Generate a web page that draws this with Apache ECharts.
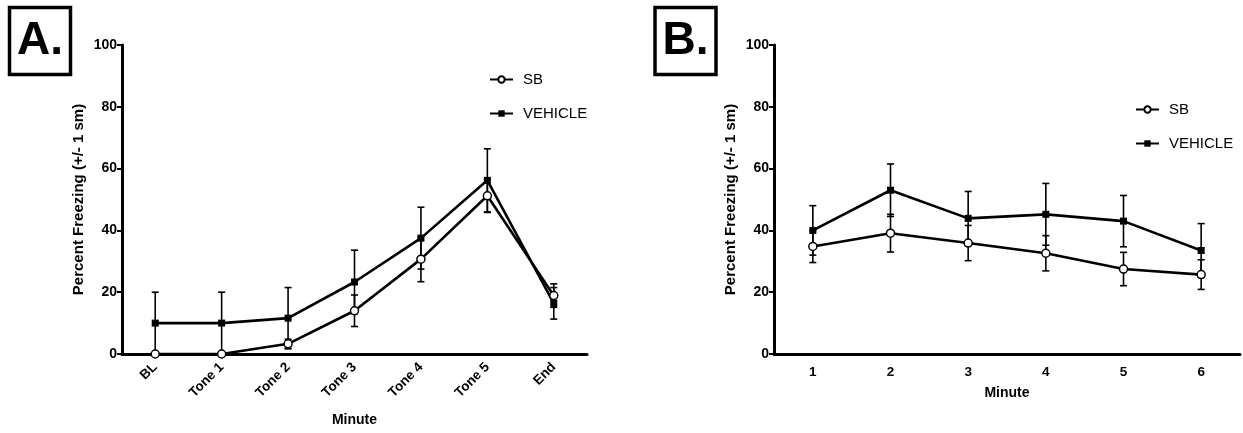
<!DOCTYPE html>
<html>
<head>
<meta charset="utf-8">
<script src="https://cdn.jsdelivr.net/npm/echarts@6/dist/echarts.min.js"></script>
<style>
  html, body { margin: 0; padding: 0; background: #fff; }
  #main { width: 1243px; height: 433px; }
</style>
</head>
<body>
<div id="main"></div>
<script>
// panel A: tone trials
var catsA = ['BL', 'Tone 1', 'Tone 2', 'Tone 3', 'Tone 4', 'Tone 5', 'End'];
var sbA = [0, 0, 3.3, 14.0, 30.7, 51.2, 18.9];
var sbAErr = [0, 0, 1.5, 5.1, 7.3, 5.4, 3.8];
var vehA = [10, 10, 11.6, 23.3, 37.5, 56.2, 16.4];
var vehAErr = [10, 10, 9.9, 10.3, 10.0, 10.2, 5.1];

// panel B: minutes
var catsB = ['1', '2', '3', '4', '5', '6'];
var sbB = [34.8, 39.1, 35.9, 32.6, 27.5, 25.7];
var sbBErr = [5.2, 6.1, 5.7, 5.7, 5.4, 4.8];
var vehB = [40.0, 53.0, 43.9, 45.2, 43.0, 33.5];
var vehBErr = [8.0, 8.5, 8.7, 10.0, 8.3, 8.7];

var yTicks = [0, 20, 40, 60, 80, 100];
var FONT = 'Arial, "Liberation Sans", sans-serif';

function errData(vals, errs) {
    var out = [];
    for (var i = 0; i < vals.length; i++) {
        out.push([i, vals[i] - errs[i], vals[i] + errs[i]]);
    }
    return out;
}

function renderErr(params, api) {
    var lo = api.value(1), hi = api.value(2);
    if (hi - lo <= 0) return null;
    var top = api.coord([api.value(0), hi]);
    var bot = api.coord([api.value(0), lo]);
    var w = 3.5;
    var st = { stroke: '#000', lineWidth: 1.6 };
    return {
        type: 'group',
        children: [
            { type: 'line', shape: { x1: top[0], y1: top[1], x2: bot[0], y2: bot[1] }, style: st },
            { type: 'line', shape: { x1: top[0] - w, y1: top[1], x2: top[0] + w, y2: top[1] }, style: st },
            { type: 'line', shape: { x1: bot[0] - w, y1: bot[1], x2: bot[0] + w, y2: bot[1] }, style: st }
        ]
    };
}

function xAx(idx, cats, rot, gap) {
    return {
        type: 'category', gridIndex: idx, data: cats, boundaryGap: true,
        name: 'Minute', nameLocation: 'middle', nameGap: gap,
        nameTextStyle: { fontFamily: FONT, fontWeight: 'bold', fontSize: 14, color: '#000' },
        axisLine: { lineStyle: { color: '#000', width: 3 } },
        axisTick: { alignWithLabel: true, length: 5, lineStyle: { width: 2, color: '#000' } },
        axisLabel: { rotate: rot, interval: 0, margin: 11, fontFamily: FONT, fontWeight: 'bold', fontSize: 13.5, color: '#000' },
        splitLine: { show: false }
    };
}

function yAx(idx) {
    return {
        type: 'value', gridIndex: idx, min: 0, max: 100, interval: 20,
        name: 'Percent Freezing (+/- 1 sm)', nameLocation: 'middle', nameGap: 36, nameRotate: 90,
        nameTextStyle: { fontFamily: FONT, fontWeight: 'bold', fontSize: 15, color: '#000' },
        axisLine: { show: true, lineStyle: { color: '#000', width: 3 } },
        axisTick: { show: true, length: 5, lineStyle: { width: 2, color: '#000' } },
        axisLabel: { margin: 5, fontFamily: FONT, fontWeight: 'bold', fontSize: 14, color: '#000',
            formatter: function (v) { return yTicks.indexOf(v) >= 0 ? String(v) : ''; } },
        splitLine: { show: false }
    };
}

function lineS(name, idx, vals, hollow) {
    return {
        name: name, type: 'line', xAxisIndex: idx, yAxisIndex: idx, data: vals,
        clip: false, z: 3,
        symbol: hollow ? 'circle' : 'rect', symbolSize: hollow ? 8 : 7,
        lineStyle: { color: '#000', width: 2.6 },
        itemStyle: hollow ? { color: '#fff', borderColor: '#000', borderWidth: 1.5 } : { color: '#000', borderWidth: 0 }
    };
}

function errS(idx, vals, errs) {
    return {
        type: 'custom', xAxisIndex: idx, yAxisIndex: idx, data: errData(vals, errs),
        renderItem: renderErr, clip: false, z: 2, silent: true
    };
}

function boxLabel(x, txt) {
    return [
        { type: 'rect', shape: { x: x, y: 7.5, width: 61, height: 67 }, style: { fill: 'none', stroke: '#000', lineWidth: 3.5 } },
        { type: 'text', x: x + 30.5, y: 41, style: { text: txt, fontFamily: FONT, fontWeight: 'bold', fontSize: 46, fill: '#000', align: 'center', verticalAlign: 'middle' } }
    ];
}

var legendBase = {
    orient: 'vertical', itemWidth: 23, itemHeight: 8, itemGap: 19,
    textStyle: { fontFamily: FONT, fontSize: 15, color: '#000', padding: [0, 0, 0, 5] }
};

var chart = echarts.init(document.getElementById('main'));
var option = {
    animation: false,
    backgroundColor: '#fff',
    grid: [
        { left: 122, top: 45, width: 465, height: 309 },
        { left: 774, top: 45, width: 466, height: 309 }
    ],
    legend: [
        Object.assign({ left: 484, top: 67, data: ['SB', 'VEHICLE'] }, legendBase),
        Object.assign({ left: 1130, top: 97, data: ['SB ', 'VEHICLE '] }, legendBase)
    ],
    xAxis: [xAx(0, catsA, 45, 59), xAx(1, catsB, 0, 32)],
    yAxis: [yAx(0), yAx(1)],
    graphic: boxLabel(9.5, 'A.').concat(boxLabel(655, 'B.')),
    series: [
        errS(0, sbA, sbAErr),
        errS(0, vehA, vehAErr),
        lineS('SB', 0, sbA, true),
        lineS('VEHICLE', 0, vehA, false),
        errS(1, sbB, sbBErr),
        errS(1, vehB, vehBErr),
        lineS('SB ', 1, sbB, true),
        lineS('VEHICLE ', 1, vehB, false)
    ]
};
chart.setOption(option);
</script>
</body>
</html>
